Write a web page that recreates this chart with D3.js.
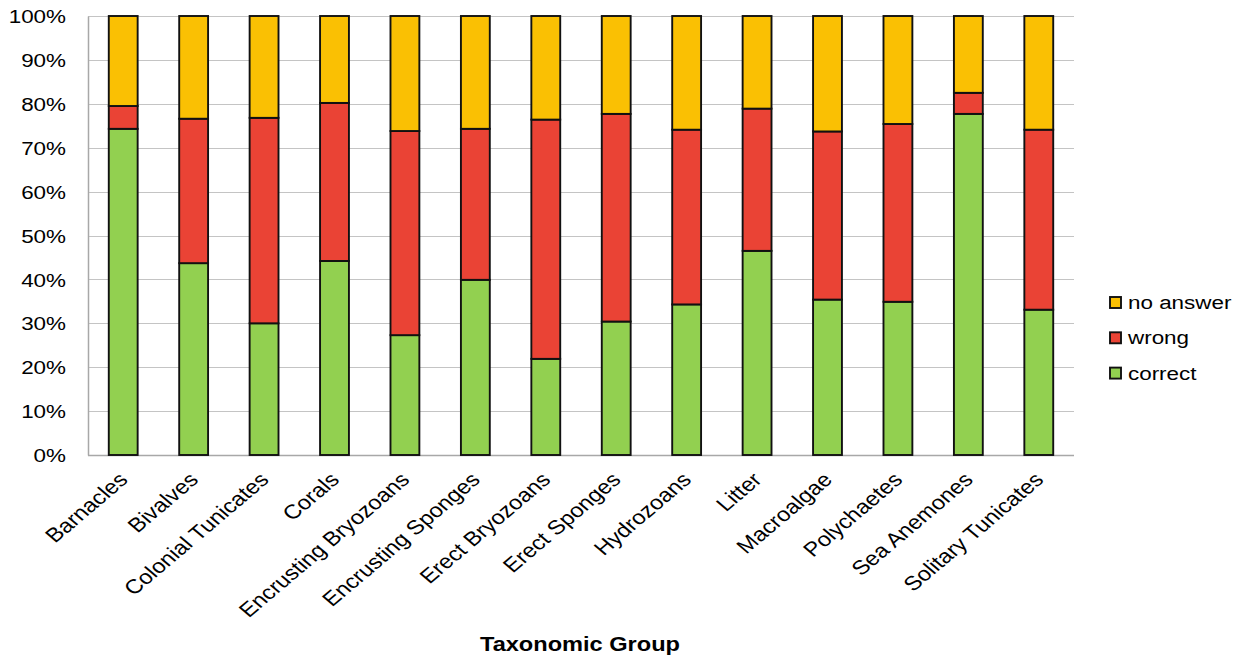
<!DOCTYPE html>
<html>
<head>
<meta charset="utf-8">
<script src="https://cdn.jsdelivr.net/npm/d3@7"></script>
<style>
  html, body { margin: 0; padding: 0; background: #fff; }
  svg { display: block; }
  text { font-family: "Liberation Sans", Arial, sans-serif; fill: #000; }
</style>
</head>
<body>
<svg id="chart" width="1251" height="659"></svg>
<script>
// Taxonomic groups along the x axis
const categories = [
  "Barnacles", "Bivalves", "Colonial Tunicates", "Corals",
  "Encrusting Bryozoans", "Encrusting Sponges", "Erect Bryozoans",
  "Erect Sponges", "Hydrozoans", "Litter", "Macroalgae",
  "Polychaetes", "Sea Anemones", "Solitary Tunicates"
];

// Share of answers per group (percent)
const correct  = [74.3, 43.7, 30.0, 44.2, 27.3, 39.9, 21.9, 30.4, 34.3, 46.5, 35.4, 34.9, 77.7, 33.1];
const wrong    = [ 5.2, 32.9, 46.8, 36.0, 46.5, 34.4, 54.5, 47.3, 39.8, 32.4, 38.3, 40.5,  4.8, 41.0];
const noAnswer = correct.map((c, i) => +(100 - c - wrong[i]).toFixed(1));

const seriesKeys   = ["correct", "wrong", "no answer"];
const seriesColors = ["#92D050", "#EA4335", "#FAC003"];
const yTicks = [0, 10, 20, 30, 40, 50, 60, 70, 80, 90, 100];

const rows = categories.map((c, i) => ({
  group: c,
  "correct": correct[i],
  "wrong": wrong[i],
  "no answer": noAnswer[i]
}));

const svg = d3.select("#chart");
const sx = 1.18; // horizontal text stretch

const plotLeft = 88, plotRight = 1074, plotTop = 16, plotBottom = 455;

const x = d3.scaleBand()
  .domain(categories)
  .range([plotLeft, plotRight])
  .paddingInner(0.59)
  .paddingOuter(0.295);

const y = d3.scaleLinear().domain([0, 100]).range([plotBottom, plotTop]);

const color = d3.scaleOrdinal().domain(seriesKeys).range(seriesColors);

// gridlines
svg.append("g")
  .selectAll("line")
  .data(yTicks.filter(t => t > 0))
  .join("line")
  .attr("x1", plotLeft).attr("x2", plotRight)
  .attr("y1", d => Math.round(y(d)) + 0.5)
  .attr("y2", d => Math.round(y(d)) + 0.5)
  .attr("stroke", "#c4c4c4")
  .attr("stroke-width", 1);

// y axis
const yAxis = svg.append("g")
  .attr("transform", `translate(${plotLeft},0)`)
  .call(d3.axisLeft(y).tickValues(yTicks).tickSize(0).tickPadding(0).tickFormat(d => d + "%"));
yAxis.select(".domain").attr("stroke", "#a8a8a8").attr("stroke-width", 1.5);
yAxis.selectAll("text")
  .attr("font-size", 19)
  .attr("font-family", "Liberation Sans, Arial, sans-serif")
  .attr("x", null)
  .attr("dy", "0.35em")
  .attr("text-anchor", "end")
  .attr("transform", `translate(${66 - plotLeft},0) scale(${sx},1)`);

// bottom axis line
svg.append("line")
  .attr("x1", plotLeft).attr("x2", plotRight)
  .attr("y1", plotBottom + 0.5).attr("y2", plotBottom + 0.5)
  .attr("stroke", "#a8a8a8").attr("stroke-width", 1.5);

// stacked bars
const stacked = d3.stack().keys(seriesKeys)(rows);
svg.append("g")
  .selectAll("g")
  .data(stacked)
  .join("g")
  .attr("fill", d => color(d.key))
  .selectAll("rect")
  .data(d => d)
  .join("rect")
  .attr("x", d => x(d.data.group))
  .attr("width", x.bandwidth())
  .attr("y", d => y(d[1]))
  .attr("height", d => y(d[0]) - y(d[1]))
  .attr("stroke", "#111")
  .attr("stroke-width", 1.9);

// x tick labels
svg.append("g")
  .selectAll("text")
  .data(categories)
  .join("text")
  .attr("transform", d => `translate(${x(d) + x.bandwidth() / 2 + 6},481) scale(${sx},1) rotate(-45)`)
  .attr("text-anchor", "end")
  .attr("font-size", 20)
  .text(d => d);

// x axis title
svg.append("text")
  .attr("transform", `translate(580,651) scale(${sx},1)`)
  .attr("text-anchor", "middle")
  .attr("font-size", 20)
  .attr("font-weight", "bold")
  .text("Taxonomic Group");

// legend (top to bottom: no answer, wrong, correct)
const legendKeys = seriesKeys.slice().reverse();
const legend = svg.append("g")
  .selectAll("g")
  .data(legendKeys)
  .join("g")
  .attr("transform", (d, i) => `translate(1110,${297 + i * 35.3})`);
legend.append("rect")
  .attr("width", 11).attr("height", 11)
  .attr("fill", d => color(d))
  .attr("stroke", "#111").attr("stroke-width", 1.9);
legend.append("text")
  .attr("transform", `translate(18,5.5) scale(${sx},1)`)
  .attr("dy", "0.35em")
  .attr("font-size", 19)
  .text(d => d);
</script>
</body>
</html>
